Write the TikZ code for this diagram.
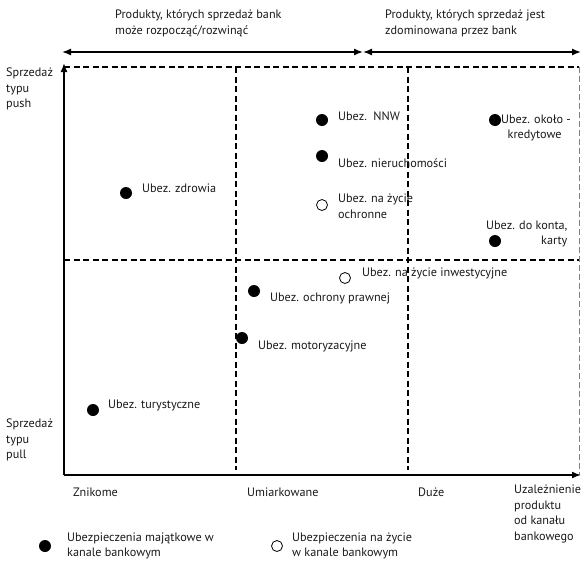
\documentclass[tikz,border=0pt]{standalone}
\usepackage{fontspec}
\setmainfont{PT Sans}
\usetikzlibrary{arrows.meta}
\begin{document}
\begin{tikzpicture}[x=1pt,y=-1pt,
  every node/.style={font=\fontsize{12.2}{15.5}\selectfont, inner sep=0pt, text=black!90},
  lbl/.style={anchor=west, align=left},
  axis/.style={line width=1.6pt, -{Latex[length=9pt,width=7pt]}},
  span/.style={line width=1.4pt, {Latex[length=9pt,width=7pt]}-{Latex[length=9pt,width=7pt]}},
  grid/.style={line width=1.3pt, dash pattern=on 6pt off 3.5pt},
  edge/.style={line width=0.6pt, gray, dash pattern=on 6pt off 3pt},
  prop/.style={circle, fill=black, minimum size=12pt},
  life/.style={circle, draw=black, line width=0.8pt, fill=white, minimum size=11pt}
]
\useasboundingbox (0,0) rectangle (581,560);

% reference points
\coordinate (O) at (64,475);
\coordinate (ytop) at (64,63);
\coordinate (xend) at (581,475);
\coordinate (sL) at (62,52);
\coordinate (sM) at (363,52);
\coordinate (sR) at (581,52);

% headings over the spans
\node[lbl, anchor=north west] (h1) at (115,10) {Produkty, których sprzedaż bank\\może rozpocząć/rozwinąć};
\node[lbl, anchor=north west] (h2) at (385,10) {Produkty, których sprzedaż jest\\zdominowana przez bank};
\draw[span] (sL) -- (sM);
\draw[span] (sM) -- (sR);

% quadrant grid
\coordinate (g1) at (64,67);
\coordinate (g2) at (579,67);
\coordinate (g3) at (579,475);
\coordinate (m1) at (64,260);
\coordinate (m2) at (579,260);
\coordinate (v1a) at (236,67);
\coordinate (v1b) at (236,470);
\coordinate (v2a) at (408,67);
\coordinate (v2b) at (408,470);
\draw[grid] (g1) -- (g2);
\draw[grid] (m1) -- (m2);
\draw[grid] (v1a) -- (v1b);
\draw[grid] (v2a) -- (v2b);
\draw[edge] (g2) -- (g3);

% axes
\draw[axis] (O) -- (ytop);
\draw[axis] (O) -- (xend);

% axis labels
\node[lbl, anchor=north west] (push) at (6,68) {Sprzedaż\\typu\\push};
\node[lbl, anchor=north west] (pull) at (6,419) {Sprzedaż\\typu\\pull};
\node[lbl] (x1) at (73,492) {Znikome};
\node[lbl] (x2) at (247,492) {Umiarkowane};
\node[lbl] (x3) at (418,492) {Duże};
\node[lbl, anchor=north west] (x4) at (514,485) {Uzależnienie\\produktu\\od kanału\\bankowego};

% products
\node[prop] (nnw) at (322,120) {};
\node[lbl] (tnnw) at (338,116) {Ubez.\ \ NNW};
\node[prop] (nier) at (322,156) {};
\node[lbl] (tnier) at (338,163) {Ubez. nieruchomości};
\node[life] (zyo) at (322,205) {};
\node[lbl] (tzyo) at (338,206) {Ubez. na życie\\ochronne};
\node[prop] (kred) at (495,120) {};
\node[lbl] (tkred) at (501,128) {Ubez. około -\\\ \ kredytowe};
\node[prop] (konto) at (495,241) {};
\node[lbl, align=right] (tkonto) at (486,234) {Ubez. do konta,\\karty};
\node[prop] (zdr) at (126,193) {};
\node[lbl] (tzdr) at (142,188) {Ubez. zdrowia};
\node[life] (zyi) at (345,278) {};
\node[lbl] (tzyi) at (362,273) {Ubez. na życie inwestycyjne};
\node[prop] (praw) at (254,291) {};
\node[lbl] (tpraw) at (270,298) {Ubez. ochrony prawnej};
\node[prop] (moto) at (242,338) {};
\node[lbl] (tmoto) at (258,346) {Ubez. motoryzacyjne};
\node[prop] (tur) at (93,410) {};
\node[lbl] (ttur) at (108,405) {Ubez. turystyczne};

% legend
\node[prop] (lg1) at (45,546) {};
\node[lbl] (tlg1) at (67,546) {Ubezpieczenia majątkowe w\\kanale bankowym};
\node[life] (lg2) at (277,546) {};
\node[lbl] (tlg2) at (292,546) {Ubezpieczenia na życie\\w kanale bankowym};
\end{tikzpicture}
\end{document}
